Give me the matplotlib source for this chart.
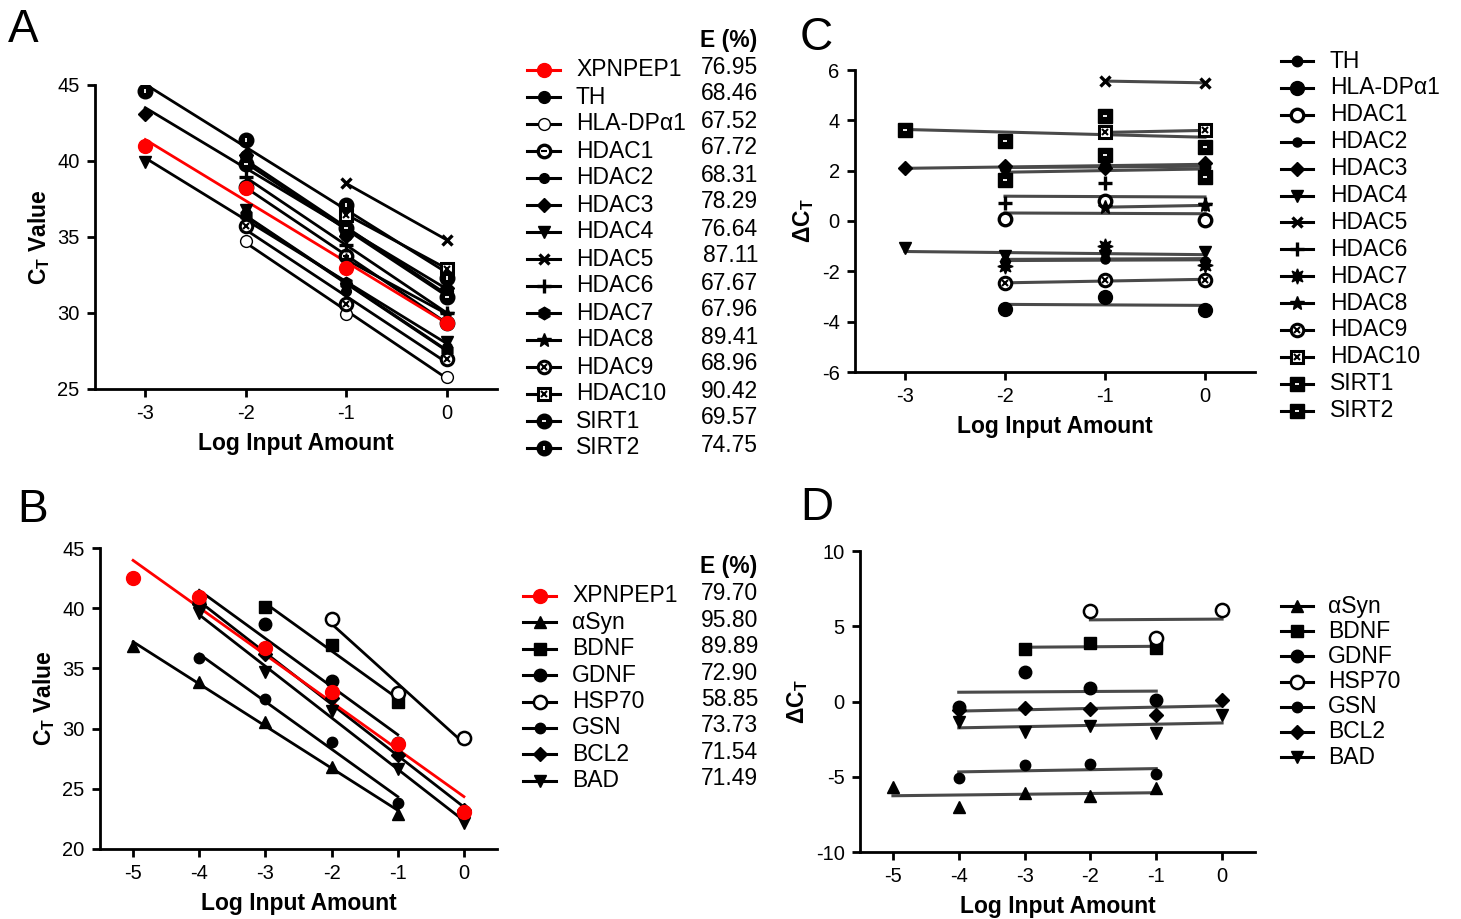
"""qPCR standard curves (A, B) and delta-CT plots (C, D)."""
import numpy as np
import matplotlib
matplotlib.use("Agg")
import matplotlib.pyplot as plt

plt.rcParams.update({
    "font.family": ["Liberation Sans", "DejaVu Sans"],
    "axes.unicode_minus": False,
    "mathtext.fontset": "custom",
    "mathtext.rm": "Liberation Sans",
    "mathtext.bf": "Liberation Sans:bold",
    "mathtext.it": "Liberation Sans:italic",
})

# ── Panel A / C data (CT values at log input -3..0) ─────────────────────────
x_a = [-3, -2, -1, 0]
ct_xpnpep1_a = [41.0, 38.2, 32.96, 29.32]
ct_th = [None, 40.30, 35.16, 31.47]
ct_hla = [None, 34.72, 29.96, 25.80]
ct_hdac1 = [None, 38.27, 33.76, 29.36]
ct_hdac2 = [None, 36.60, 31.46, 27.75]
ct_hdac3 = [43.09, 40.40, 35.06, 31.62]
ct_hdac4 = [39.92, 36.80, 31.56, 28.10]
ct_hdac5 = [None, None, 38.52, 34.81]
ct_hdac6 = [None, 38.92, 34.46, 30.01]
ct_hdac7 = [None, 36.42, 31.96, 27.57]
ct_hdac8 = [None, None, 33.51, 29.94]
ct_hdac9 = [None, 35.72, 30.62, 26.98]
ct_hdac10 = [None, None, 36.48, 32.92]
ct_sirt1 = [None, 39.83, 35.58, 31.08]
ct_sirt2 = [44.62, 41.39, 37.13, 32.27]
genes_a = ["TH", "HLA-DPα1", "HDAC1", "HDAC2", "HDAC3", "HDAC4", "HDAC5",
           "HDAC6", "HDAC7", "HDAC8", "HDAC9", "HDAC10", "SIRT1", "SIRT2"]
ct_rows_a = [ct_th, ct_hla, ct_hdac1, ct_hdac2, ct_hdac3, ct_hdac4, ct_hdac5,
             ct_hdac6, ct_hdac7, ct_hdac8, ct_hdac9, ct_hdac10, ct_sirt1, ct_sirt2]
eff_a = ["76.95", "68.46", "67.52", "67.72", "68.31", "78.29", "76.64", "87.11",
         "67.67", "67.96", "89.41", "68.96", "90.42", "69.57", "74.75"]

# ── Panel B / D data (CT values at log input -5..0) ─────────────────────────
x_b = [-5, -4, -3, -2, -1, 0]
ct_xpnpep1_b = [42.53, 40.90, 36.67, 33.07, 28.70, 23.10]
ct_asyn = [36.87, 33.90, 30.57, 26.79, 22.93, None]
ct_bdnf = [None, None, 40.14, 36.98, 32.23, None]
ct_gdnf = [None, 40.55, 38.65, 33.95, 28.80, None]
ct_hsp70 = [None, None, None, 39.10, 32.94, 29.18]
ct_gsn = [None, 35.84, 32.45, 28.92, 23.86, None]
ct_bcl2 = [None, 40.34, 36.22, 32.57, 27.80, 23.20]
ct_bad = [None, 39.56, 34.67, 31.44, 26.63, 22.20]
genes_b = ["αSyn", "BDNF", "GDNF", "HSP70", "GSN", "BCL2", "BAD"]
ct_rows_b = [ct_asyn, ct_bdnf, ct_gdnf, ct_hsp70, ct_gsn, ct_bcl2, ct_bad]
eff_b = ["79.70", "95.80", "89.89", "72.90", "58.85", "73.73", "71.54", "71.49"]


def st(m, ms=8, fc="k", ec="k", mew=1.0, om=None, oms=5, oc="k", omew=1.5):
    return dict(m=m, ms=ms, fc=fc, ec=ec, mew=mew, om=om, oms=oms, oc=oc, omew=omew)


RED = st("o", 10, "#ff0000", "#ff0000")
style_a = {
    "TH": st("o", 8.5), "HLA-DPα1": st("o", 8.5, "white", mew=1.0),
    "HDAC1": st("o", 9, "white", mew=2.4, om="_", oms=5),
    "HDAC2": st("o", 7), "HDAC3": st("D", 7.5), "HDAC4": st("v", 9),
    "HDAC5": st("x", 7.5, mew=2.4), "HDAC6": st("+", 9.5, mew=2.4),
    "HDAC7": st("h", 9), "HDAC8": st("*", 10),
    "HDAC9": st("o", 9, "white", mew=2.2, om="x", oms=4.5),
    "HDAC10": st("s", 8.5, "white", mew=2.2, om="x", oms=4.5),
    "SIRT1": st("o", 10.5, om="_", oms=3.5, oc="white", omew=1.3),
    "SIRT2": st("o", 10.5, om="|", oms=3.5, oc="white", omew=1.3),
}
style_c = dict(style_a)
style_c.update({
    "TH": st("o", 7.5), "HLA-DPα1": st("o", 10), "HDAC1": st("o", 9, "white", mew=2.4),
    "HDAC2": st("o", 6.5), "HDAC7": st((8, 1, 0), 11),
    "SIRT1": st("s", 9.5, om="_", oms=3.5, oc="white", omew=1.3),
    "SIRT2": st("s", 9.5, om="_", oms=3.5, oc="white", omew=1.3),
})
style_b = {
    "αSyn": st("^", 9), "BDNF": st("s", 8.5), "GDNF": st("o", 9),
    "HSP70": st("o", 9.5, "white", mew=1.8), "GSN": st("o", 7.5),
    "BCL2": st("D", 7.5), "BAD": st("v", 9),
}


def draw_marker(ax, x, y, s, z=3):
    ax.plot(x, y, ls="none", marker=s["m"], ms=s["ms"], mfc=s["fc"],
            mec=s["ec"], mew=s["mew"], zorder=z)
    if s["om"]:
        ax.plot(x, y, ls="none", marker=s["om"], ms=s["oms"], mec=s["oc"],
                mew=s["omew"], zorder=z + 0.1)


def fit_line(ax, x, y, **kw):
    x = np.asarray(x, float)
    y = np.asarray(y, float)
    ok = ~np.isnan(y)
    k, b = np.polyfit(x[ok], y[ok], 1)
    xs = np.array([x[ok].min(), x[ok].max()])
    ax.plot(xs, k * xs + b, zorder=2, **kw)


def style_axes(ax):
    for s in ("top", "right"):
        ax.spines[s].set_visible(False)
    for s in ("left", "bottom"):
        ax.spines[s].set_linewidth(2)
    ax.tick_params(width=2, length=6, labelsize=14.5, pad=5)


W, H = 1461, 919
fig = plt.figure(figsize=(W / 100, H / 100), dpi=100)


def px_axes(x0, y0, x1, y1):
    return fig.add_axes([x0 / W, 1 - y1 / H, (x1 - x0) / W, (y1 - y0) / H])


def labels(ax, ylab):
    ax.set_xlabel("Log Input Amount", fontsize=16.5, fontweight="bold", labelpad=6)
    ax.set_ylabel(ylab, fontsize=16.5, fontweight="bold")


# ── A ───────────────────────────────────────────────────────────────────────
axA = px_axes(95, 85, 497, 389)
for g, row in zip(genes_a, ct_rows_a):
    fit_line(axA, x_a, row, color="k", lw=2)
    draw_marker(axA, x_a, np.asarray(row, float), style_a[g])
fit_line(axA, x_a, ct_xpnpep1_a, color="#ff0000", lw=2)
draw_marker(axA, x_a, ct_xpnpep1_a, RED, z=5)
axA.set_xlim(-3.5, 0.5)
axA.set_ylim(25, 45)
axA.set_xticks([-3, -2, -1, 0])
axA.set_yticks([25, 30, 35, 40, 45])
labels(axA, r"$\mathbf{C_T}$ Value")
style_axes(axA)

# ── C ───────────────────────────────────────────────────────────────────────
axC = px_axes(855, 70, 1255, 372)
ref_a = np.asarray(ct_xpnpep1_a, float)
for g, row in zip(genes_a, ct_rows_a):
    d = np.asarray(row, float) - ref_a
    fit_line(axC, x_a, d, color="#4a4a4a", lw=2.2)
    draw_marker(axC, x_a, d, style_c[g])
axC.set_xlim(-3.5, 0.5)
axC.set_ylim(-6, 6)
axC.set_xticks([-3, -2, -1, 0])
axC.set_yticks(range(-6, 7, 2))
labels(axC, r"ΔC$\mathbf{_T}$")
style_axes(axC)

# ── B ───────────────────────────────────────────────────────────────────────
axB = px_axes(100, 548, 497, 849)
for g, row in zip(genes_b, ct_rows_b):
    fit_line(axB, x_b, row, color="k", lw=2)
    draw_marker(axB, x_b, np.asarray(row, float), style_b[g])
fit_line(axB, x_b, ct_xpnpep1_b, color="#ff0000", lw=2)
draw_marker(axB, x_b, ct_xpnpep1_b, RED, z=5)
axB.set_xlim(-5.5, 0.5)
axB.set_ylim(20, 45)
axB.set_xticks(range(-5, 1))
axB.set_yticks(range(20, 46, 5))
labels(axB, r"$\mathbf{C_T}$ Value")
style_axes(axB)

# ── D ───────────────────────────────────────────────────────────────────────
axD = px_axes(860, 551, 1255, 852)
ref_b = np.asarray(ct_xpnpep1_b, float)
for g, row in zip(genes_b, ct_rows_b):
    d = np.asarray(row, float) - ref_b
    fit_line(axD, x_b, d, color="#4a4a4a", lw=2.2)
    draw_marker(axD, x_b, d, style_b[g])
axD.set_xlim(-5.5, 0.5)
axD.set_ylim(-10, 10)
axD.set_xticks(range(-5, 1))
axD.set_yticks([-10, -5, 0, 5, 10])
labels(axD, r"ΔC$\mathbf{_T}$")
style_axes(axD)

# ── Overlay: legends and panel letters (pixel coordinates) ──────────────────
ov = fig.add_axes([0, 0, 1, 1])
ov.set_xlim(0, W)
ov.set_ylim(H, 0)
ov.set_axis_off()
ov.patch.set_alpha(0)


def legend_rows(x0, x1, tx, y0, dy, names, styles, first_red=False):
    rows = (["XPNPEP1"] if first_red else []) + names
    for i, g in enumerate(rows):
        y = y0 + i * dy
        red = first_red and i == 0
        ov.plot([x0, x1], [y, y], color="#ff0000" if red else "k", lw=2.2)
        draw_marker(ov, [(x0 + x1) / 2], [y], RED if red else styles[g])
        ov.text(tx, y, g, va="center", ha="left", fontsize=16.5)
    return rows


legend_rows(527, 560, 576, 70, 27.0, genes_a, style_a, first_red=True)
ov.text(729, 40, "E (%)", ha="center", va="center", fontsize=16.5, fontweight="bold")
for i, e in enumerate(eff_a):
    ov.text(758, 67 + i * 27.0, e, ha="right", va="center", fontsize=16.5)

legend_rows(1281, 1313, 1330, 61, 26.9, genes_a, style_c)

legend_rows(523, 556, 572, 596, 26.4, genes_b, style_b, first_red=True)
ov.text(729, 567, "E (%)", ha="center", va="center", fontsize=16.5, fontweight="bold")
for i, e in enumerate(eff_b):
    ov.text(758, 594 + i * 26.4, e, ha="right", va="center", fontsize=16.5)

legend_rows(1281, 1313, 1328, 606, 25.2, genes_b, style_b)

for lbl, (lx, ly) in zip("ABCD", [(8, 30), (17, 510), (800, 38), (800, 508)]):
    ov.text(lx, ly, lbl, ha="left", va="center", fontsize=33)

fig.savefig("out.png", dpi=100)
